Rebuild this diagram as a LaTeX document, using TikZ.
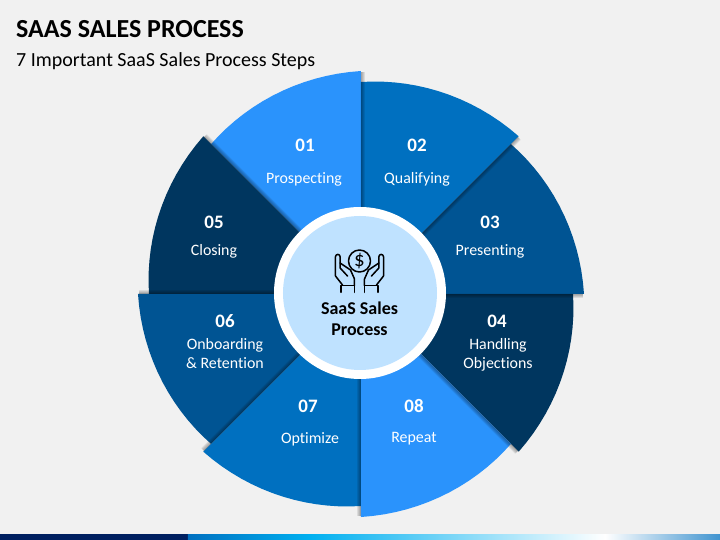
\documentclass[tikz,border=0pt]{standalone}
\usepackage{fontspec}
\setmainfont[Ligatures=NoCommon]{Carlito}
\usepackage{tikz}
\usetikzlibrary{positioning}
\definecolor{hellblau}{HTML}{2A93FC}
\definecolor{mittelblau}{HTML}{0070C0}
\definecolor{stahlblau}{HTML}{005493}
\definecolor{dunkelblau}{HTML}{00365F}
\definecolor{kreisblau}{HTML}{BFE2FF}
\definecolor{hintergrund}{HTML}{F1F1F1}
\definecolor{leiste}{HTML}{002060}
\definecolor{leistehell}{HTML}{00B0F0}
\tikzset{
  numlabel/.style={text=white,font=\fontsize{19}{22}\selectfont\bfseries},
  steplabel/.style={text=white,align=center,font=\fontsize{15.9}{19}\selectfont},
  iconline/.style={line width=1.5pt,line join=round,line cap=round}
}
\begin{document}
\begin{tikzpicture}[x=1pt,y=1pt]
%Alles in Pixeln, Ursprung im Mittelpunkt der Sektoren
  \pgfmathsetmacro{\rKlein}{212}
  \pgfmathsetmacro{\rGross}{223}
  \fill[hintergrund] (-361,-246) rectangle (359,294);
  \useasboundingbox (-361,-246) rectangle (359,294);
%Leiste unten
  \fill[leiste] (-361,-246) rectangle (-173,-240);
  \shade[left color=mittelblau,right color=leistehell] (-173,-246) rectangle (-51,-240);
  \shade[left color=leistehell,right color=white] (-51,-246) rectangle (244,-240);
  \shade[left color=white,right color=mittelblau!75] (244,-246) rectangle (359,-240);
%Titel
  \node[anchor=base west,inner sep=0pt,font=\fontsize{26}{30}\selectfont\bfseries] (titel) at (-345,256.5) {SAAS SALES PROCESS};
  \node[anchor=base west,inner sep=0pt,font=\fontsize{20}{24}\selectfont] (untertitel) at (-345,227.5) {7 Important SaaS Sales Process Steps};
%Sektoren, jeder waechst im Uhrzeigersinn von rKlein auf rGross
\foreach \rot/\col in {90/hellblau,45/mittelblau,0/stahlblau,-45/dunkelblau,-90/hellblau,-135/mittelblau,-180/stahlblau,-225/dunkelblau}{
\fill[\col,rotate=\rot] (0,0) -- plot[domain=45:0,samples=16] (\x:{\rGross-(\rGross-\rKlein)*\x/45}) -- cycle;
}
%Schatten auf der Kante zum naechsten Sektor
\foreach \rot in {0,45,...,315}{
\foreach \w in {1,...,4}{
\fill[black,opacity=0.09,rotate=\rot] (0,0) rectangle (\rGross-1,-\w);
}
}
%Kreis in der Mitte
\fill[white] (-1,1) circle (86);
\fill[kreisblau] (-1,1) circle (77);
\node[font=\fontsize{18}{21}\selectfont\bfseries,align=center] (mitte) at (-1.5,-25) {SaaS Sales\\Process};
%Haende mit Muenze
\begin{scope}[shift={(-1.5,33)}]
\draw[iconline] (0,0) circle (11);
\node[inner sep=0pt,font=\fontsize{21}{21}\selectfont] (dollar) at (0,0) {\$};
\foreach \sx in {1,-1}{
\begin{scope}[xscale=\sx]
\draw[iconline] (-18.3,-31.3) -- (-18.3,-24.7) -- (-5,-24.7) -- (-5,-31.3);
\draw[iconline] (-17,-24) -- (-24,-15) -- (-24,4.3) arc (180:0:2.3) -- (-19.4,-7) -- (-12,-15);
\draw[iconline] (-19.4,-2) -- (-9,-9) -- (-5,-18) -- (-5,-24.7);
\end{scope}
}
\end{scope}
%Beschriftung
\foreach \nr/\xn/\yn/\xt/\yt/\txt in {01/-56/149/-57/115/Prospecting,02/56/149/56/115/Qualifying,03/129/72/129/43/Presenting,04/136/-27/137/-61/{Handling\\Objections},05/-147/72/-147/43/Closing,06/-136/-27/-136/-60/{Onboarding\\\& Retention},07/-53/-112/-51/-145/Optimize,08/53/-112/53/-145/Repeat}{
\node[numlabel] (num\nr) at (\xn,\yn) {\nr};
\node[steplabel] (txt\nr) at (\xt,\yt) {\txt};
}
\end{tikzpicture}
\end{document}
